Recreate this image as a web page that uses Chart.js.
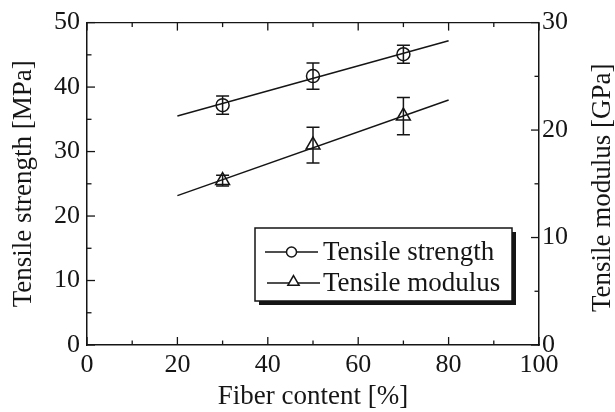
<!DOCTYPE html>
<html>
<head>
<meta charset="utf-8">
<script src="https://cdn.jsdelivr.net/npm/chart.js@4.4.1/dist/chart.umd.min.js"></script>
<style>
  html, body { margin: 0; padding: 0; background: #fff; }
  #wrap { width: 615px; height: 412px; }
</style>
</head>
<body>
<div id="wrap"><canvas id="c" width="615" height="412"></canvas></div>
<script>
// ---- data ----
const fiberContent = [30, 50, 70];
const strengthMPa = [37.2, 41.7, 45.1];
const strengthErr = [1.4, 2.05, 1.4];
const modulusGPa = [15.3, 18.6, 21.3];
const modulusErr = [0.5, 1.67, 1.73];
const fitX = [20, 80];
const strengthFit = [35.5, 47.2];
const modulusFit = [13.9, 22.8];
const xTicks = [0, 20, 40, 60, 80, 100];
const xMinor = [10, 30, 50, 70, 90];
const yTicks = [0, 10, 20, 30, 40, 50];
const yMinor = [5, 15, 25, 35, 45];
const y2Ticks = [0, 10, 20, 30];
const y2Minor = [5, 15, 25];
const labels = ['Tensile strength', 'Tensile modulus'];
const y2Title = 'Tensile modulus [GPa]';

const INK = '#151515';
const FONT = "'Liberation Serif', 'Times New Roman', serif";

const pts = (xs, ys) => xs.map((x, i) => ({ x: x, y: ys[i] }));

const ticksPlugin = {
  id: 'inwardTicks',
  afterDraw(chart) {
    const { ctx, chartArea: a, scales } = chart;
    ctx.save();
    ctx.strokeStyle = INK;
    ctx.lineWidth = 1.3;
    const seg = (x1, y1, x2, y2) => { ctx.beginPath(); ctx.moveTo(x1, y1); ctx.lineTo(x2, y2); ctx.stroke(); };
    const MAJ = 8, MIN = 4.5;
    seg(a.left, a.top, a.right, a.top);
    xTicks.forEach(v => { const p = scales.x.getPixelForValue(v); seg(p, a.bottom, p, a.bottom - MAJ); seg(p, a.top, p, a.top + MAJ); });
    xMinor.forEach(v => { const p = scales.x.getPixelForValue(v); seg(p, a.bottom, p, a.bottom - MIN); seg(p, a.top, p, a.top + MIN); });
    yTicks.forEach(v => { const p = scales.y.getPixelForValue(v); seg(a.left, p, a.left + MAJ, p); });
    yMinor.forEach(v => { const p = scales.y.getPixelForValue(v); seg(a.left, p, a.left + MIN, p); });
    y2Ticks.forEach(v => { const p = scales.y2.getPixelForValue(v); seg(a.right, p, a.right - MAJ, p); });
    y2Minor.forEach(v => { const p = scales.y2.getPixelForValue(v); seg(a.right, p, a.right - MIN, p); });
    // right axis title, reading bottom-to-top like the left one
    const s = scales.y2;
    ctx.translate(603, (a.top + a.bottom) / 2 + 4);
    ctx.rotate(-Math.PI / 2);
    ctx.fillStyle = INK;
    ctx.font = '27px ' + FONT;
    ctx.textAlign = 'center';
    ctx.textBaseline = 'middle';
    ctx.fillText(y2Title, 0, 0);
    ctx.restore();
  }
};

const errPlugin = {
  id: 'errorBars',
  afterDatasetsDraw(chart) {
    const { ctx, scales } = chart;
    ctx.save();
    ctx.strokeStyle = INK;
    ctx.lineWidth = 1.5;
    const CAP = 6.5;
    chart.data.datasets.forEach(ds => {
      if (!ds.err) return;
      const ys = scales[ds.yAxisID];
      ds.data.forEach((d, i) => {
        const x = scales.x.getPixelForValue(d.x);
        const t = ys.getPixelForValue(d.y + ds.err[i]);
        const b = ys.getPixelForValue(d.y - ds.err[i]);
        ctx.beginPath();
        ctx.moveTo(x, t); ctx.lineTo(x, b);
        ctx.moveTo(x - CAP, t); ctx.lineTo(x + CAP, t);
        ctx.moveTo(x - CAP, b); ctx.lineTo(x + CAP, b);
        ctx.stroke();
      });
    });
    ctx.restore();
  }
};

const legendPlugin = {
  id: 'boxLegend',
  afterDraw(chart) {
    const { ctx } = chart;
    const L = 255, T = 228, R = 512, B = 301, SH = 4;
    ctx.save();
    ctx.fillStyle = INK;
    ctx.fillRect(L + SH, T + SH, R - L, B - T);
    ctx.fillStyle = '#fff';
    ctx.fillRect(L, T, R - L, B - T);
    ctx.strokeStyle = INK;
    ctx.lineWidth = 1.5;
    ctx.strokeRect(L, T, R - L, B - T);
    const rows = [
      { y: 252, x1: 265, x2: 318, style: 'circle', r: 5 },
      { y: 283, x1: 267, x2: 320, style: 'triangle', r: 6.5 }
    ];
    rows.forEach((row, i) => {
      ctx.strokeStyle = INK;
      ctx.lineWidth = 1.5;
      ctx.beginPath();
      ctx.moveTo(row.x1, row.y); ctx.lineTo(row.x2, row.y);
      ctx.stroke();
      const cx = (row.x1 + row.x2) / 2;
      ctx.fillStyle = '#fff';
      Chart.helpers.drawPoint(ctx, { pointStyle: row.style, radius: row.r, rotation: 0, borderWidth: 1.5 }, cx, row.style === 'triangle' ? row.y - 1 : row.y);
      ctx.fillStyle = INK;
      ctx.font = '27px ' + FONT;
      ctx.textBaseline = 'middle';
      ctx.textAlign = 'left';
      ctx.fillText(labels[i], 323, row.y + 1);
    });
    ctx.restore();
  }
};

const forceWidth = w => s => { s.width = w; };

new Chart(document.getElementById('c'), {
  type: 'scatter',
  data: {
    datasets: [
      { label: labels[0], data: pts(fiberContent, strengthMPa), err: strengthErr, yAxisID: 'y',
        pointStyle: 'circle', pointRadius: 6.5, borderColor: INK, backgroundColor: 'rgba(0,0,0,0)', borderWidth: 1.5, showLine: false },
      { label: labels[0] + ' fit', data: pts(fitX, strengthFit), yAxisID: 'y',
        showLine: true, pointRadius: 0, borderColor: INK, borderWidth: 1.5 },
      { label: labels[1], data: pts(fiberContent, modulusGPa), err: modulusErr, yAxisID: 'y2',
        pointStyle: 'triangle', pointRadius: 8, borderColor: INK, backgroundColor: 'rgba(0,0,0,0)', borderWidth: 1.5, showLine: false },
      { label: labels[1] + ' fit', data: pts(fitX, modulusFit), yAxisID: 'y2',
        showLine: true, pointRadius: 0, borderColor: INK, borderWidth: 1.5 }
    ]
  },
  options: {
    responsive: false,
    animation: false,
    layout: { padding: { top: 21, left: 0, right: 0, bottom: 0 } },
    plugins: { legend: { display: false }, tooltip: { enabled: false } },
    scales: {
      x: {
        type: 'linear', min: 0, max: 100,
        afterFit: s => { s.height = 67; },
        afterBuildTicks: s => { s.ticks = xTicks.map(v => ({ value: v })); },
        grid: { display: false, drawTicks: false },
        border: { display: true, color: INK, width: 1.5 },
        ticks: { color: INK, font: { family: FONT, size: 26 }, padding: 5, maxRotation: 0, autoSkip: false },
        title: { display: true, text: 'Fiber content [%]', color: INK, font: { family: FONT, size: 27, lineHeight: 1 }, padding: { top: 0, bottom: 2 } }
      },
      y: {
        type: 'linear', position: 'left', min: 0, max: 50,
        afterFit: forceWidth(87),
        afterBuildTicks: s => { s.ticks = yTicks.map(v => ({ value: v })); },
        grid: { display: false, drawTicks: false },
        border: { display: true, color: INK, width: 1.5 },
        ticks: { color: INK, font: { family: FONT, size: 26 }, padding: 7 },
        title: { display: true, text: 'Tensile strength [MPa]', color: INK, font: { family: FONT, size: 27, lineHeight: 1 }, padding: { top: 10, bottom: 0 } }
      },
      y2: {
        type: 'linear', position: 'right', min: 0, max: 30,
        afterFit: forceWidth(76),
        afterBuildTicks: s => { s.ticks = y2Ticks.map(v => ({ value: v })); },
        grid: { display: false, drawTicks: false },
        border: { display: true, color: INK, width: 1.5 },
        ticks: { color: INK, font: { family: FONT, size: 26 }, padding: 3 },
        title: { display: false }
      }
    }
  },
  plugins: [errPlugin, ticksPlugin, legendPlugin]
});
</script>
</body>
</html>
